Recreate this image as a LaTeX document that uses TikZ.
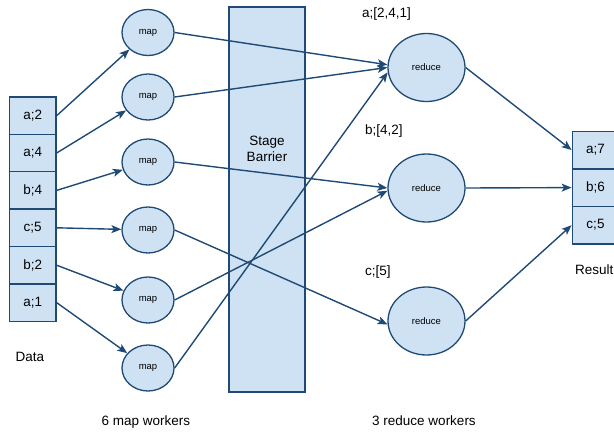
\documentclass[tikz,border=0pt]{standalone}
\usepackage{fontspec}
\setmainfont{Liberation Sans}
\usetikzlibrary{arrows.meta,shapes.geometric}
\definecolor{fillb}{HTML}{CFE2F3}
\definecolor{lineb}{HTML}{1F4A75}
\begin{document}
\begin{tikzpicture}[x=1pt,y=-1pt,
  cell/.style={draw=lineb,fill=fillb,line width=1.3pt,minimum width=46.5pt,minimum height=37.4pt,inner sep=0pt,font=\fontsize{13.5}{16}\selectfont},
  mapn/.style={ellipse,draw=lineb,fill=fillb,line width=1.3pt,minimum width=52pt,minimum height=46pt,inner sep=0pt,font=\fontsize{9.5}{11}\selectfont},
  rednode/.style={ellipse,draw=lineb,fill=fillb,line width=1.3pt,minimum width=77pt,minimum height=68pt,inner sep=0pt,font=\fontsize{9.5}{11}\selectfont},
  lbl/.style={font=\fontsize{13.5}{16}\selectfont,inner sep=0pt},
  conn/.style={draw=lineb,line width=1.4pt,-{Stealth[length=10pt,width=8pt,inset=2.5pt]}},
  barrier/.style={draw=lineb,fill=fillb,line width=1.3pt,inner sep=0pt}]
\useasboundingbox (0,0) rectangle (614,432);
\clip (0,0) rectangle (614,432);
% stage barrier
\node[barrier,minimum width=76pt,minimum height=385pt] (bar) at (267,199.5) {};
\node[lbl,align=center] (bartxt) at (267,149) {Stage\\Barrier};
% data
\node[cell] (d1) at (32.75,115.7) {a;2};
\node[cell] (d2) at (32.75,153.0) {a;4};
\node[cell] (d3) at (32.75,190.4) {b;4};
\node[cell] (d4) at (32.75,227.8) {c;5};
\node[cell] (d5) at (32.75,265.2) {b;2};
\node[cell] (d6) at (32.75,302.6) {a;1};
\node[lbl] (data) at (30,357) {Data};
% maps
\node[mapn] (m1) at (148,32.5) {map};
\node[mapn] (m2) at (148,97) {map};
\node[mapn] (m3) at (148,162) {map};
\node[mapn] (m4) at (148,230) {map};
\node[mapn] (m5) at (148,300) {map};
\node[mapn] (m6) at (148,368) {map};
\node[lbl] (mw) at (146,422) {6 map workers};
% reduces
\node[rednode] (r1) at (426.5,67.5) {reduce};
\node[rednode] (r2) at (426.5,188) {reduce};
\node[rednode] (r3) at (426.5,321) {reduce};
\node[lbl,anchor=west] (la) at (362,14) {a;[2,4,1]};
\node[lbl,anchor=west] (lb) at (365,131) {b;[4,2]};
\node[lbl,anchor=west] (lc) at (365,272) {c;[5]};
\node[lbl] (rw) at (424,421) {3 reduce workers};
% results
\node[cell] (s1) at (595.5,150) {a;7};
\node[cell] (s2) at (595.5,187.6) {b;6};
\node[cell] (s3) at (595.5,225.2) {c;5};
\node[lbl,anchor=west] (res) at (575,270) {Result};
% data -> map
\draw[conn] (d1.east) -- (m1);
\draw[conn] (d2.east) -- (m2);
\draw[conn] (d3.east) -- (m3);
\draw[conn] (d4.east) -- (m4);
\draw[conn] (d5.east) -- (m5);
\draw[conn] (d6.east) -- (m6);
% map -> reduce
\draw[conn] (m1.east) -- (r1.176);
\draw[conn] (m2.east) -- (r1.west);
\draw[conn] (m3.east) -- (r2.west);
\draw[conn] (m4.east) -- (r3.185);
\draw[conn] (m5.east) -- (r2.184);
\draw[conn] (m6.east) -- (r1.187);
% reduce -> result
\draw[conn] (r1.east) -- (s1.west);
\draw[conn] (r2.east) -- (s2.west);
\draw[conn] (r3.east) -- (s3.west);
\end{tikzpicture}
\end{document}
